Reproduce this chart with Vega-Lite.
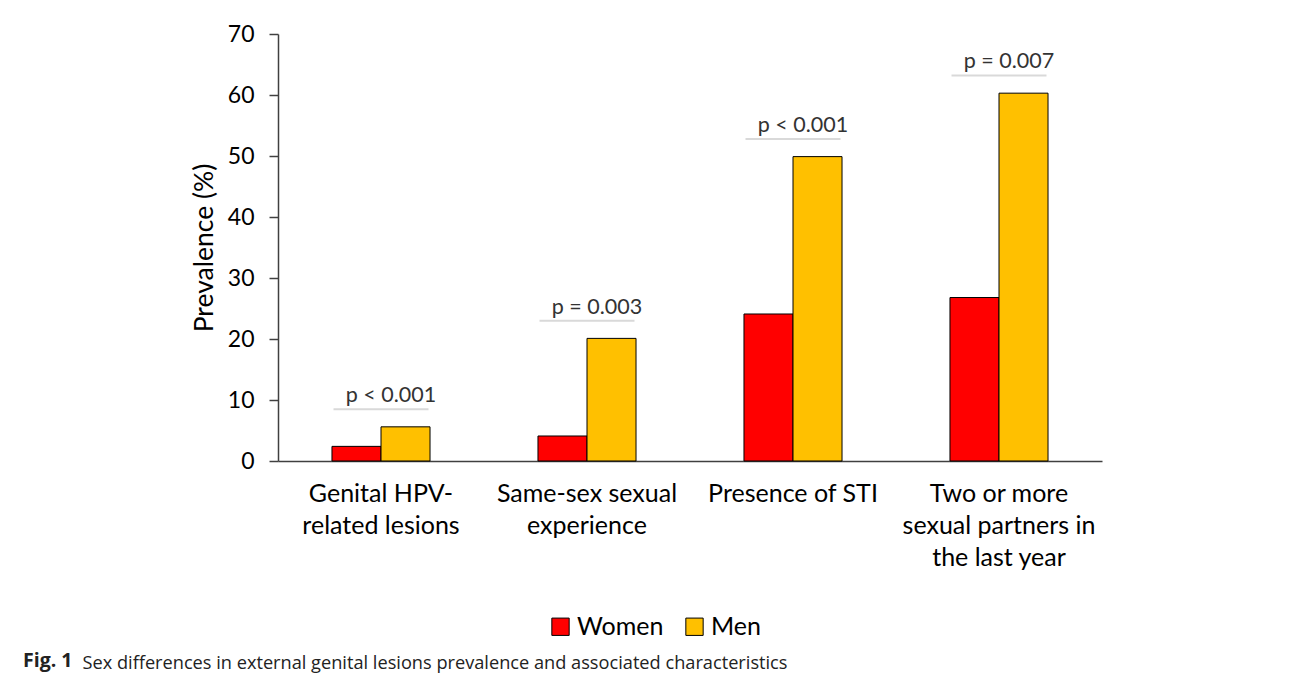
{
  "$schema": "https://vega.github.io/schema/vega-lite/v6.json",
  "width": 824,
  "height": 427,
  "autosize": {"type": "none"},
  "padding": {"left": 278, "top": 34, "right": 190, "bottom": 220},
  "background": "white",
  "title": {
    "text": "Fig. 1",
    "orient": "top",
    "anchor": "start",
    "frame": "group",
    "font": "Open Sans",
    "fontSize": 19.5,
    "fontWeight": "bold",
    "color": "#222222",
    "dx": -255,
    "dy": 667,
    "baseline": "alphabetic"
  },
  "datasets": {
    "bars": [
      {"cat": "Genital HPV-related lesions", "sex": "Women", "value": 2.4},
      {"cat": "Genital HPV-related lesions", "sex": "Men", "value": 5.6},
      {"cat": "Same-sex sexual experience", "sex": "Women", "value": 4.1},
      {"cat": "Same-sex sexual experience", "sex": "Men", "value": 20.1},
      {"cat": "Presence of STI", "sex": "Women", "value": 24.1},
      {"cat": "Presence of STI", "sex": "Men", "value": 49.9},
      {"cat": "Two or more sexual partners in the last year", "sex": "Women", "value": 26.8},
      {"cat": "Two or more sexual partners in the last year", "sex": "Men", "value": 60.3}
    ],
    "pvals": [
      {"cat": "Genital HPV-related lesions", "p": "p < 0.001"},
      {"cat": "Same-sex sexual experience", "p": "p = 0.003"},
      {"cat": "Presence of STI", "p": "p < 0.001"},
      {"cat": "Two or more sexual partners in the last year", "p": "p = 0.007"}
    ]
  },
  "encoding": {
    "x": {
      "field": "cat",
      "type": "nominal",
      "sort": null,
      "scale": {"paddingInner": 0.524, "paddingOuter": 0.262},
      "axis": {
        "title": "Sex differences in external genital lesions prevalence and associated characteristics",
        "titleX": -196,
        "titleY": 207,
        "titleAlign": "left",
        "titleAnchor": null,
        "titleBaseline": "alphabetic",
        "titleFont": "Open Sans",
        "titleFontSize": 18.2,
        "titleFontWeight": "normal",
        "titleColor": "#222222",
        "labelAngle": 0,
        "labelFont": "Lato",
        "labelFontSize": 25,
        "labelColor": "#000000",
        "labelPadding": 20,
        "labelLineHeight": 32,
        "labelBaseline": "top",
        "labelExpr": "datum.value == 'Genital HPV-related lesions' ? ['Genital HPV-', 'related lesions'] : datum.value == 'Same-sex sexual experience' ? ['Same-sex sexual', 'experience'] : datum.value == 'Two or more sexual partners in the last year' ? ['Two or more', 'sexual partners in', 'the last year'] : datum.value",
        "ticks": false,
        "domainColor": "#404040",
        "domainWidth": 1.5,
        "labelLimit": 0
      }
    }
  },
  "layer": [
    {
      "data": {"name": "bars"},
      "mark": {"type": "bar", "stroke": "#000000", "strokeWidth": 1},
      "encoding": {
        "xOffset": {"field": "sex", "type": "nominal", "sort": ["Women", "Men"], "scale": {"paddingInner": 0, "paddingOuter": 0}},
        "y": {
          "field": "value",
          "type": "quantitative",
          "scale": {"domain": [0, 70], "nice": false},
          "axis": {
            "title": "Prevalence (%)",
            "titleFont": "Lato",
            "titleFontSize": 26.5,
            "titleFontWeight": "normal",
            "titleColor": "#000000",
            "titlePadding": 9,
            "values": [0, 10, 20, 30, 40, 50, 60, 70],
            "grid": false,
            "labelFont": "Lato",
            "labelFontSize": 23,
            "labelColor": "#000000",
            "labelPadding": 15,
            "tickSize": 9,
            "tickColor": "#404040",
            "tickWidth": 1.5,
            "domainColor": "#404040",
            "domainWidth": 1.5
          }
        },
        "color": {
          "field": "sex",
          "type": "nominal",
          "sort": ["Women", "Men"],
          "scale": {"domain": ["Women", "Men"], "range": ["#FF0000", "#FFC000"]},
          "legend": {
            "title": null,
            "orient": "none",
            "direction": "horizontal",
            "legendX": 270,
            "legendY": 580,
            "symbolType": "square",
            "symbolSize": 300,
            "symbolStrokeColor": "#000000",
            "symbolStrokeWidth": 1,
            "symbolOpacity": 1,
            "labelFont": "Lato",
            "labelFontSize": 25,
            "labelColor": "#000000",
            "labelOffset": 4,
            "columnPadding": 18
          }
        }
      }
    },
    {
      "data": {"name": "bars"},
      "transform": [
        {"filter": "datum.sex == 'Men'"},
        {"lookup": "cat", "from": {"data": {"name": "pvals"}, "key": "cat", "fields": ["p"]}},
        {"calculate": "datum.value + 2.9", "as": "pos"}
      ],
      "layer": [
        {
          "mark": {"type": "tick", "color": "#d9d9d9", "size": 95, "thickness": 2, "opacity": 1},
          "encoding": {"y": {"field": "pos", "type": "quantitative"}}
        },
        {
          "mark": {"type": "text", "font": "Lato", "fontSize": 21.5, "color": "#333333", "baseline": "alphabetic", "dy": -7, "dx": 10},
          "encoding": {
            "y": {"field": "pos", "type": "quantitative"},
            "text": {"field": "p"}
          }
        }
      ]
    }
  ],
  "config": {"view": {"stroke": null}}
}
